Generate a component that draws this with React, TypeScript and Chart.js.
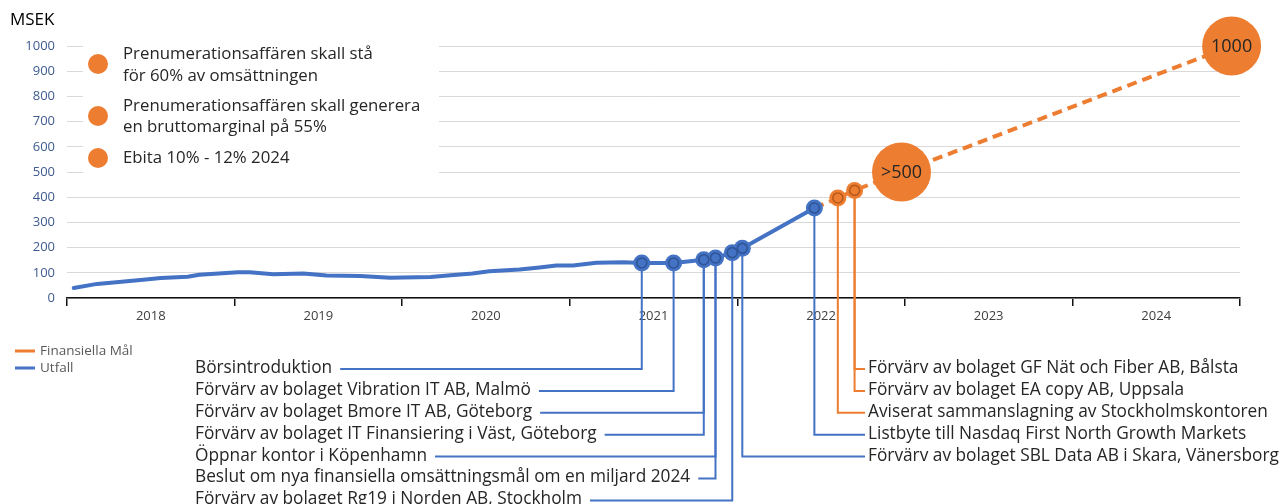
import React, { useEffect, useRef } from 'react';
import { Chart, registerables } from 'chart.js';

Chart.register(...registerables);

// ---------- data ----------
const yearLabels = ['2018', '2019', '2020', '2021', '2022', '2023', '2024'];
const firstYear = 2018;
const lastYear = 2025;

const actualName = 'Utfall';
const targetName = 'Finansiella Mål';
const unitLabel = 'MSEK';

// Utfall (revenue trend, MSEK) by decimal year
const trendYears = [2018.04, 2018.18, 2018.44, 2018.56, 2018.72, 2018.79, 2019.02, 2019.09, 2019.23, 2019.41, 2019.55, 2019.75, 2019.93, 2020.17, 2020.29, 2020.42, 2020.52, 2020.7, 2020.82, 2020.92, 2021.02, 2021.16, 2021.32];
const trendValues = [40, 56, 71, 79, 84, 92, 102, 102, 94, 97, 89, 87, 80, 83, 90, 97, 106, 113, 121, 129, 129, 140, 142];

// Utfall event points (markers)
const eventYears = [2021.43, 2021.62, 2021.8, 2021.87, 2021.97, 2022.03, 2022.46];
const eventValues = [139, 139, 152, 159, 180, 197, 357];

// Finansiella mål
const targetYears = [2022.46, 2022.6, 2022.7, 2022.98, 2024.95];
const targetValues = [357, 397, 427, 500, 1000];
const targetLabels = ['', '', '', '>500', '1000'];

const goalTexts = [
  ['Prenumerationsaffären skall stå', 'för 60% av omsättningen'],
  ['Prenumerationsaffären skall generera', 'en bruttomarginal på 55%'],
  ['Ebita 10% - 12% 2024'],
];

const leftNotes = [
  'Börsintroduktion',
  'Förvärv av bolaget Vibration IT AB, Malmö',
  'Förvärv av bolaget Bmore IT AB, Göteborg',
  'Förvärv av bolaget IT Finansiering i Väst, Göteborg',
  'Öppnar kontor i Köpenhamn',
  'Beslut om nya finansiella omsättningsmål om en miljard 2024',
  'Förvärv av bolaget Rg19 i Norden AB, Stockholm',
];
const leftNoteEvent = [0, 1, 2, 2, 3, 3, 4];

const rightNotes = [
  'Förvärv av bolaget GF Nät och Fiber AB, Bålsta',
  'Förvärv av bolaget EA copy AB, Uppsala',
  'Aviserat sammanslagning av Stockholmskontoren',
  'Listbyte till Nasdaq First North Growth Markets',
  'Förvärv av bolaget SBL Data AB i Skara, Vänersborg',
];
const rightNoteSeries = ['target', 'target', 'target', 'actual', 'actual'];
const rightNoteIndex = [2, 2, 1, 6, 5];

// ---------- styles ----------
const BLUE = '#4472C4';
const BLUE_DARK = '#2F5597';
const ORANGE = '#ED7D31';
const ORANGE_DARK = '#B85A1B';
const FONT = '"Open Sans", "Liberation Sans", Arial, sans-serif';
const TEXT = '#262626';

const NOTE_FONT = `17.3px ${FONT}`;
const ROW0 = 368;
const ROW_STEP = 21.9;
const LEFT_X = 195;
const RIGHT_X = 868;

const notesPlugin = {
  id: 'notes',
  beforeDatasetsDraw(chart: any) {
    const ctx = chart.ctx as CanvasRenderingContext2D;
    const evMeta = chart.getDatasetMeta(0);
    const tgMeta = chart.getDatasetMeta(1);
    ctx.save();
    // white box behind the goals legend
    ctx.fillStyle = '#ffffff';
    ctx.fillRect(83, 34, 356, 152);

    ctx.font = NOTE_FONT;
    ctx.lineWidth = 2;
    ctx.lineJoin = 'miter';
    // left notes
    leftNotes.forEach((t, i) => {
      const y = ROW0 + i * ROW_STEP + 1;
      const el = evMeta.data[leftNoteEvent[i]];
      const w = ctx.measureText(t).width;
      ctx.strokeStyle = BLUE;
      ctx.beginPath();
      ctx.moveTo(LEFT_X + w + 8, y);
      ctx.lineTo(el.x, y);
      ctx.lineTo(el.x, el.y);
      ctx.stroke();
    });
    // right notes
    rightNotes.forEach((t, i) => {
      const y = ROW0 + i * ROW_STEP + 1;
      const isT = rightNoteSeries[i] === 'target';
      const el = (isT ? tgMeta : evMeta).data[rightNoteIndex[i]];
      ctx.strokeStyle = isT ? ORANGE : BLUE;
      ctx.beginPath();
      ctx.moveTo(el.x, el.y);
      ctx.lineTo(el.x, y);
      ctx.lineTo(RIGHT_X - 3, y);
      ctx.stroke();
    });
    ctx.restore();
  },
  afterDatasetsDraw(chart: any) {
    const ctx = chart.ctx as CanvasRenderingContext2D;
    const evMeta = chart.getDatasetMeta(0);
    const tgMeta = chart.getDatasetMeta(1);
    ctx.save();
    ctx.lineWidth = 1.6;
    evMeta.data.forEach((el: any) => {
      ctx.strokeStyle = BLUE_DARK;
      ctx.beginPath();
      ctx.arc(el.x, el.y, 5, 0, Math.PI * 2);
      ctx.stroke();
    });
    tgMeta.data.forEach((el: any, i: number) => {
      if (i === 0) return;
      if (targetLabels[i]) {
        ctx.fillStyle = TEXT;
        ctx.font = `18px ${FONT}`;
        ctx.textAlign = 'center';
        ctx.textBaseline = 'middle';
        ctx.fillText(targetLabels[i], el.x, el.y + 1);
      } else {
        ctx.strokeStyle = ORANGE_DARK;
        ctx.beginPath();
        ctx.arc(el.x, el.y, 5, 0, Math.PI * 2);
        ctx.stroke();
      }
    });
    ctx.restore();
  },
  afterDraw(chart: any) {
    const ctx = chart.ctx as CanvasRenderingContext2D;
    ctx.save();
    // unit label
    ctx.fillStyle = '#000';
    ctx.font = `17px ${FONT}`;
    ctx.textAlign = 'left';
    ctx.textBaseline = 'middle';
    ctx.fillText(unitLabel, 10, 20);

    // goals legend
    const dotY = [64, 116, 158];
    const lineY = [[54, 76], [106, 127], [158]];
    ctx.font = `16.8px ${FONT}`;
    goalTexts.forEach((lines, i) => {
      ctx.fillStyle = ORANGE;
      ctx.beginPath();
      ctx.arc(98, dotY[i], 10, 0, Math.PI * 2);
      ctx.fill();
      ctx.fillStyle = TEXT;
      lines.forEach((l, j) => ctx.fillText(l, 123, lineY[i][j]));
    });

    // series legend
    const ds = chart.data.datasets;
    const legendItems = [
      { label: ds[1].label, color: ORANGE, y: 351 },
      { label: ds[2].label, color: BLUE, y: 368 },
    ];
    ctx.font = `13.5px ${FONT}`;
    legendItems.forEach((it) => {
      ctx.strokeStyle = it.color;
      ctx.lineWidth = 3;
      ctx.beginPath();
      ctx.moveTo(15, it.y);
      ctx.lineTo(35, it.y);
      ctx.stroke();
      ctx.fillStyle = '#595959';
      ctx.fillText(it.label, 40, it.y);
    });

    // notes text
    ctx.font = NOTE_FONT;
    ctx.fillStyle = TEXT;
    leftNotes.forEach((t, i) => ctx.fillText(t, LEFT_X, ROW0 + i * ROW_STEP));
    rightNotes.forEach((t, i) => ctx.fillText(t, RIGHT_X, ROW0 + i * ROW_STEP));
    ctx.restore();
  },
};

export default function App() {
  const ref = useRef<HTMLCanvasElement | null>(null);
  useEffect(() => {
    if (!ref.current) return;
    const trendData = trendYears.map((x, i) => ({ x, y: trendValues[i] }))
      .concat(eventYears.map((x, i) => ({ x, y: eventValues[i] })));
    const chart = new Chart(ref.current, {
      type: 'line',
      data: {
        datasets: [
          {
            label: actualName + ' händelser',
            data: eventYears.map((x, i) => ({ x, y: eventValues[i] })),
            showLine: false,
            pointRadius: 8.5,
            pointBackgroundColor: BLUE,
            pointBorderWidth: 0,
            order: 0,
            clip: false,
          } as any,
          {
            label: targetName,
            data: targetYears.map((x, i) => ({ x, y: targetValues[i] })),
            borderColor: ORANGE,
            borderWidth: 4,
            borderDash: [10, 6],
            pointRadius: (c: any) => (c.dataIndex === 0 ? 0 : targetLabels[c.dataIndex] ? 29.5 : 8.5),
            pointBackgroundColor: ORANGE,
            pointBorderWidth: 0,
            order: 1,
            clip: false,
          } as any,
          {
            label: actualName,
            data: trendData,
            borderColor: BLUE,
            borderWidth: 4,
            pointRadius: 0,
            borderJoinStyle: 'round',
            borderCapStyle: 'round',
            order: 2,
            clip: false,
          } as any,
        ],
      },
      options: {
        responsive: false,
        animation: false,
        devicePixelRatio: 1,
        events: [],
        layout: { padding: { left: 0, top: 46, right: 47, bottom: 0 } },
        plugins: { legend: { display: false }, tooltip: { enabled: false }, title: { display: false } },
        scales: {
          x: {
            type: 'linear',
            min: firstYear,
            max: lastYear,
            afterBuildTicks: (scale: any) => {
              const t: any[] = [];
              yearLabels.forEach((_, i) => {
                t.push({ value: firstYear + i });
                t.push({ value: firstYear + i + 0.5 });
              });
              t.push({ value: lastYear });
              scale.ticks = t;
            },
            afterFit: (scale: any) => { scale.height = 206; },
            ticks: {
              autoSkip: false,
              maxRotation: 0,
              padding: 2,
              color: '#404040',
              font: { family: FONT, size: 13 },
              callback: (v: any) => {
                const f = v - Math.floor(v);
                return Math.abs(f - 0.5) < 1e-6 ? yearLabels[Math.floor(v) - firstYear] : '';
              },
            },
            grid: {
              drawOnChartArea: false,
              drawTicks: true,
              tickLength: 8,
              lineWidth: 1.5,
              tickColor: (c: any) => (c.tick && Math.abs(c.tick.value - Math.round(c.tick.value)) < 1e-6 ? '#111' : 'rgba(0,0,0,0)'),
            },
            border: { display: true, color: '#111', width: 1.5 },
          },
          y: {
            min: 0,
            max: 1000,
            afterFit: (scale: any) => { scale.width = 67; },
            ticks: {
              stepSize: 100,
              padding: 12,
              color: '#3E5B8F',
              font: { family: FONT, size: 13 },
              callback: (v: any) => String(v),
            },
            grid: { color: '#D9D9D9', lineWidth: 1, drawTicks: false },
            border: { display: false },
          },
        },
      },
      plugins: [notesPlugin],
    } as any);
    return () => chart.destroy();
  }, []);
  return (
    <div style={{ position: 'fixed', left: 0, top: 0, width: 1287, height: 504, background: '#fff' }}>
      <canvas ref={ref} width={1287} height={504} style={{ display: 'block' }} />
    </div>
  );
}
